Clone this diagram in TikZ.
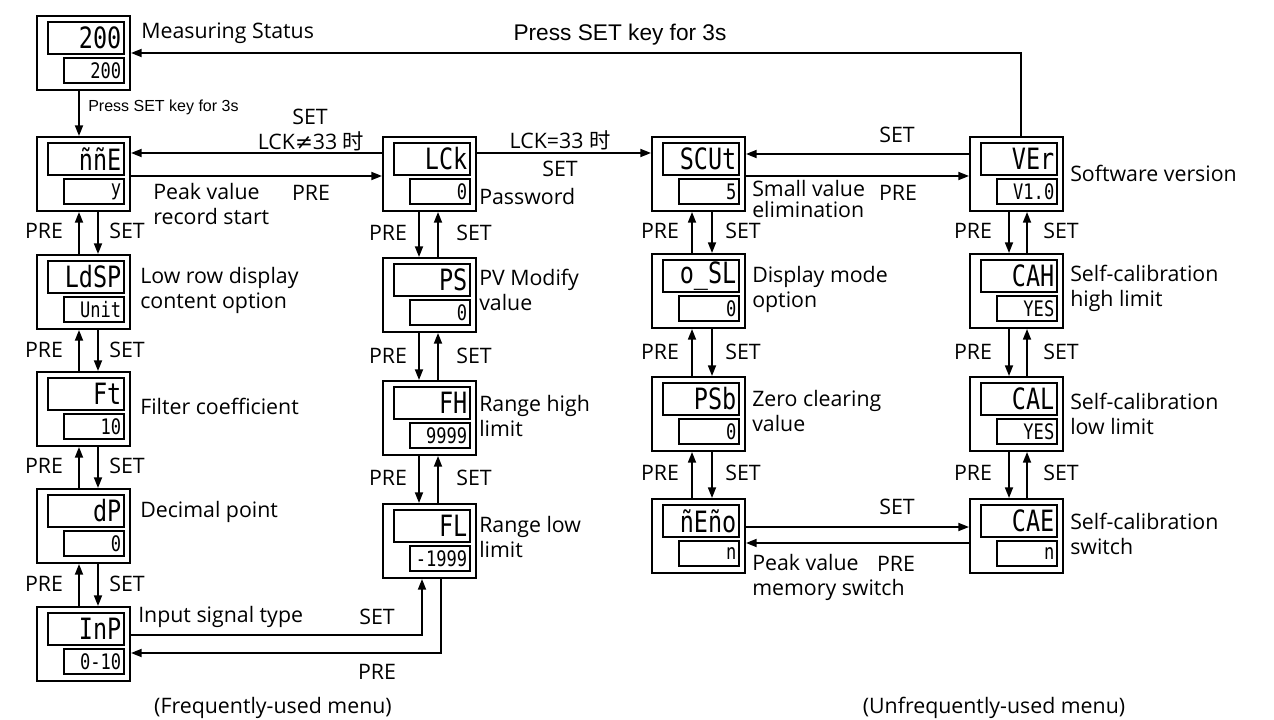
\documentclass[tikz,border=0pt]{standalone}
\usepackage{fontspec}
\setmainfont{Open Sans}
\newfontfamily\cjk{Noto Sans CJK SC}
\newfontfamily\djv{DejaVu Sans}
\newfontfamily\arialf{Liberation Sans}
\newfontfamily\segf[FakeStretch=0.8]{DejaVu Sans Mono}
\usetikzlibrary{arrows.meta,calc}

\newcommand\dispbox[5]{%
  \node[outerbox] (#1) at (#2,#3) {};
  \node[topd] (#1t) at ({#2+11},{#3+6}) {#4};
  \node[botd] (#1b) at ({#2+27},{#3+42}) {#5};
}

\begin{document}
\begin{tikzpicture}[x=0.75pt,y=-0.75pt,
  lbl/.style={font=\fontsize{16}{18.75}\selectfont, inner sep=0pt},
  desc/.style={lbl, anchor=west, align=left},
  outerbox/.style={draw, line width=1.5pt, minimum width=69.75pt, minimum height=55.5pt, inner sep=0pt, anchor=north west},
  topd/.style={draw, line width=1.4pt, anchor=north west, minimum height=24pt, text width=53pt, inner xsep=2pt, inner ysep=0pt, align=right, font=\segf\fontsize{22}{22}\selectfont},
  botd/.style={draw, line width=1.4pt, anchor=north west, minimum height=18.75pt, text width=41pt, inner xsep=2pt, inner ysep=0pt, align=right, font=\segf\fontsize{16}{16}\selectfont},
  arr/.style={line width=1.3pt, -{Triangle[length=8pt,width=6pt]}},
  ln/.style={line width=1.3pt}
]
\fill[white] (0,0) rectangle (1274,720);
\useasboundingbox (0,0) rectangle (1274,720);

% ---- boxes
\dispbox{m}{36}{15}{200}{200}
\dispbox{pk}{36}{136}{ññE}{y}
\dispbox{ld}{36}{254}{LdSP}{Unit}
\dispbox{ft}{36}{371}{Ft}{10}
\dispbox{dp}{36}{488}{dP}{0}
\dispbox{inp}{36}{606}{InP}{0-10}
\dispbox{lck}{382}{136}{LCk}{0}
\dispbox{ps}{382}{257}{PS}{0}
\dispbox{fh}{382}{380}{FH}{9999}
\dispbox{fl}{382}{503}{FL}{-1999}
\dispbox{scut}{651}{136}{SCUt}{5}
\dispbox{osl}{651}{253}{o\_SL}{0}
\dispbox{psb}{651}{376}{PSb}{0}
\dispbox{meno}{651}{498}{ñEño}{n}
\dispbox{ver}{969}{136}{VEr}{V1.0}
\dispbox{cah}{969}{253}{CAH}{YES}
\dispbox{cal}{969}{376}{CAL}{YES}
\dispbox{cae}{969}{498}{CAE}{n}

% ---- descriptions
\node[desc] (d-m) at (141,33) {Measuring Status};
\node[desc] (d-pk) at (153,204) {Peak value\\record start};
\node[desc] (d-ld) at (140,290) {Low row display\\content option};
\node[desc] (d-ft) at (140,406) {Filter coefficient};
\node[desc] (d-dp) at (140,512) {Decimal point};
\node[desc] (d-inp) at (138,617) {Input signal type};
\node[desc] (d-lck) at (479,197) {Password};
\node[desc] (d-ps) at (479,290) {PV Modify\\value};
\node[desc] (d-fh) at (479,416) {Range high\\limit};
\node[desc] (d-fl) at (479,537) {Range low\\limit};
\node[desc, font=\fontsize{16}{15.75}\selectfont] (d-scut) at (752,199) {Small value\\elimination};
\node[desc] (d-osl) at (752,289) {Display mode\\option};
\node[desc] (d-psb) at (752,411) {Zero clearing\\value};
\node[desc] (d-meno) at (752,577) {Peak value\\memory switch};
\node[desc] (d-ver) at (1070,173) {Software version};
\node[desc] (d-cah) at (1070,288) {Self-calibration\\high limit};
\node[desc] (d-cal) at (1070,414) {Self-calibration\\low limit};
\node[desc] (d-cae) at (1070,534) {Self-calibration\\switch};

% ---- vertical arrows: left column
\draw[arr] ($(m.south)+(-4.5,0)$) -- ($(pk.north)+(-4.5,0)$);
\node[inner sep=0pt, anchor=west, font=\arialf\fontsize{12}{14}\selectfont] (t-m) at (88,107) {Press SET key for 3s};
\foreach \u/\l/\yy in {pk/ld/231, ld/ft/350, ft/dp/466, dp/inp/584}{
  \draw[arr] ($(\l.north)+(-4.5,0)$) -- ($(\u.south)+(-4.5,0)$);
  \draw[arr] ($(\u.south)+(14.5,0)$) -- ($(\l.north)+(14.5,0)$);
  \node[lbl] at (44,\yy) {PRE};
  \node[lbl] at (127,\yy) {SET};
}
% LCK column
\foreach \u/\l/\yy in {lck/ps/233, ps/fh/356, fh/fl/478}{
  \draw[arr] ($(\u.south)+(-10.5,0)$) -- ($(\l.north)+(-10.5,0)$);
  \draw[arr] ($(\l.north)+(8.5,0)$) -- ($(\u.south)+(8.5,0)$);
  \node[lbl] at (388,\yy) {PRE};
  \node[lbl] at (474,\yy) {SET};
}
% SCUt column
\foreach \u/\l/\yy in {scut/osl/231, osl/psb/352, psb/meno/473}{
  \draw[arr] ($(\l.north)+(-6.5,0)$) -- ($(\u.south)+(-6.5,0)$);
  \draw[arr] ($(\u.south)+(13.5,0)$) -- ($(\l.north)+(13.5,0)$);
  \node[lbl] at (660,\yy) {PRE};
  \node[lbl] at (743,\yy) {SET};
}
% VEr column
\foreach \u/\l/\yy in {ver/cah/231, cah/cal/352, cal/cae/473}{
  \draw[arr] ($(\u.south)+(-7.5,0)$) -- ($(\l.north)+(-7.5,0)$);
  \draw[arr] ($(\l.north)+(10.5,0)$) -- ($(\u.south)+(10.5,0)$);
  \node[lbl] at (973,\yy) {PRE};
  \node[lbl] at (1061,\yy) {SET};
}

% ---- horizontal connectors
\draw[arr] ($(lck.north west)+(0,17)$) -- ($(pk.north east)+(0,17)$);
\draw[arr] ($(pk.north east)+(0,40)$) -- ($(lck.north west)+(0,40)$);
\node[lbl] at (310,117) {SET};
\node[lbl] at (311,141) {LCK{\djv ≠}33 {\cjk 时}};
\node[lbl] at (311,193) {PRE};

\draw[arr] ($(lck.north east)+(0,17)$) -- ($(scut.north west)+(0,17)$);
\node[lbl] at (560,140) {LCK=33 {\cjk 时}};
\node[lbl] at (560,169) {SET};

\draw[arr] ($(ver.north west)+(0,18)$) -- ($(scut.north east)+(0,18)$);
\draw[arr] ($(scut.north east)+(0,40)$) -- ($(ver.north west)+(0,40)$);
\node[lbl] at (897,135) {SET};
\node[lbl] at (898,193) {PRE};

\draw[arr] ($(meno.north east)+(0,29)$) -- ($(cae.north west)+(0,29)$);
\draw[arr] ($(cae.north west)+(0,45)$) -- ($(meno.north east)+(0,45)$);
\node[lbl] at (897,507) {SET};
\node[lbl] at (896,564) {PRE};

\draw[arr] ($(inp.north east)+(0,29)$) -| ($(fl.south)+(-7.5,0)$);
\draw[arr] ($(fl.south)+(11.5,0)$) |- ($(inp.north east)+(0,47)$);
\node[lbl] at (377,617) {SET};
\node[lbl] at (377,672) {PRE};

\draw[arr] ($(ver.north)+(4.5,0)$) |- ($(m.north east)+(0,38)$);
\node[inner sep=0pt, font=\arialf\fontsize{17}{19}\selectfont] (t-top) at (620,35) {Press SET key for 3s};

% ---- captions
\node[lbl] at (273,708) {(Frequently-used menu)};
\node[lbl] at (994,708) {(Unfrequently-used menu)};
\end{tikzpicture}
\end{document}
